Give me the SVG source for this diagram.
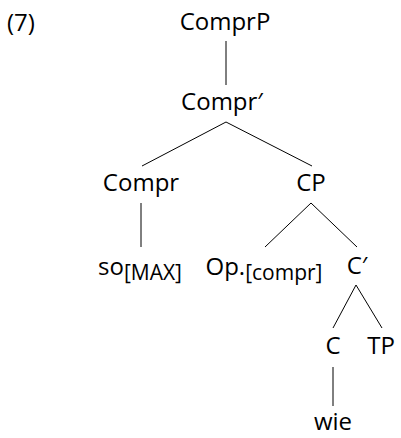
<svg xmlns="http://www.w3.org/2000/svg" width="401" height="438" viewBox="0 0 401 438">
<style>
text{font-family:"Open Sans","DejaVu Sans",sans-serif;font-size:24px;fill:#000;text-anchor:middle}
.sub{font-size:21px}
line{stroke:#000;stroke-width:1}
</style>
<rect width="401" height="438" fill="#fff"/>
<text x="7" y="31" style="text-anchor:start">(7)</text>
<g id="ComprP"><text x="225" y="30">ComprP</text></g>
<g id="ComprBar"><text x="222" y="110">Compr′</text></g>
<g id="Compr"><text x="141" y="191">Compr</text></g>
<g id="CP"><text x="311" y="191">CP</text></g>
<g id="so"><text x="140" y="275">so<tspan class="sub" dy="5">[MAX]</tspan></text></g>
<g id="Op"><text x="264" y="275">Op.<tspan class="sub" dy="5">[compr]</tspan></text></g>
<g id="CBar"><text x="357" y="274">C′</text></g>
<g id="C"><text x="333" y="354">C</text></g>
<g id="TP"><text x="381" y="354">TP</text></g>
<g id="wie"><text x="333" y="430">wie</text></g>
<g id="connectors">
<line x1="226" y1="41" x2="226" y2="85"/>
<line x1="226" y1="122" x2="142" y2="166"/>
<line x1="226" y1="122" x2="312" y2="166"/>
<line x1="141" y1="203" x2="141" y2="247"/>
<line x1="311" y1="203" x2="265" y2="247"/>
<line x1="311" y1="203" x2="357" y2="247"/>
<line x1="356" y1="285" x2="333" y2="328"/>
<line x1="356" y1="285" x2="382" y2="328"/>
<line x1="333" y1="367" x2="333" y2="406"/>
</g>
</svg>
